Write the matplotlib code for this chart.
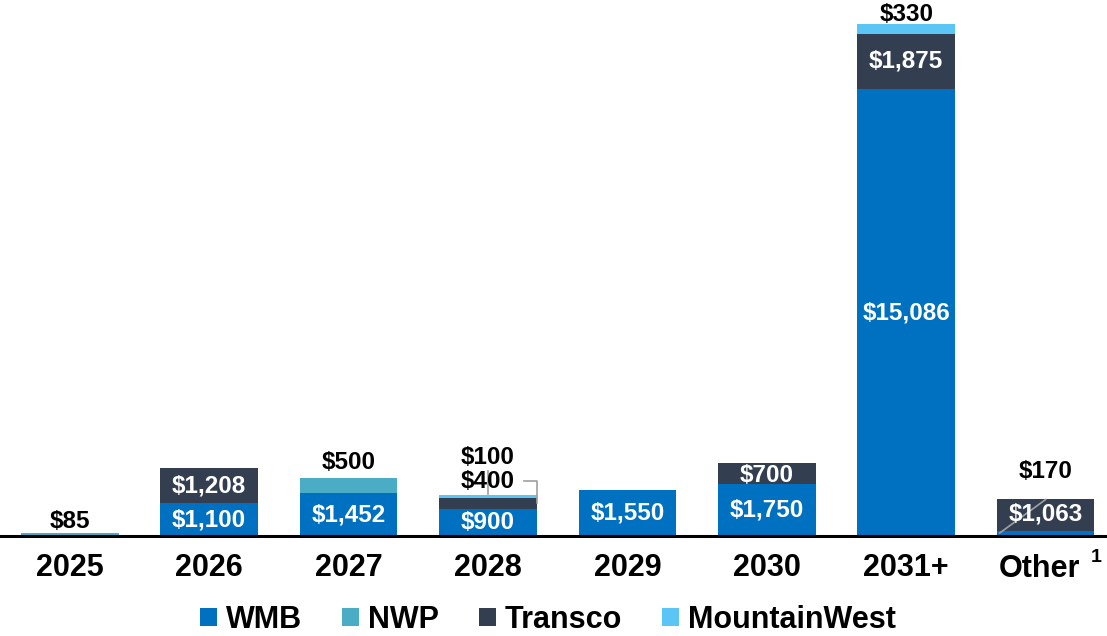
import matplotlib.pyplot as plt
import numpy as np

plt.rcParams['font.family'] = ['Liberation Sans', 'DejaVu Sans']
plt.rcParams['font.weight'] = 'bold'

years = ['2025', '2026', '2027', '2028', '2029', '2030', '2031+', 'Other']
wmb = [0, 1100, 1452, 900, 1550, 1750, 15086, 170]
nwp = [85, 0, 500, 0, 0, 0, 0, 0]
transco = [0, 1208, 0, 400, 0, 700, 1875, 1063]
mountainwest = [0, 0, 0, 100, 0, 0, 330, 0]

colors = {'WMB': '#0070C0', 'NWP': '#4BACC6', 'Transco': '#333F50', 'MountainWest': '#5BC5F5'}

fig = plt.figure(figsize=(11.07, 6.36), dpi=100)
ax = fig.add_axes([0, 100 / 636, 1, 536 / 636])

x = np.arange(len(years))
w = 0.7
series = [('WMB', wmb), ('NWP', nwp), ('Transco', transco), ('MountainWest', mountainwest)]
bottom = np.zeros(len(years))
for name, vals in series:
    vals = np.array(vals, dtype=float)
    ax.bar(x, vals, w, bottom=bottom, color=colors[name], label=name, edgecolor='none')
    bottom += vals

def fmt(v):
    return '${:,}'.format(int(v))

size = 17.5
# white labels inside segments
inside = [(1, 0), (1, 2), (2, 0), (3, 0), (4, 0), (5, 0), (5, 2), (6, 0), (6, 2), (7, 2)]
stack = np.array([wmb, nwp, transco, mountainwest], dtype=float)
cum = np.vstack([np.zeros(len(years)), np.cumsum(stack, axis=0)])
for i, s in inside:
    yc = cum[s, i] + stack[s, i] / 2
    if i == 7:
        yc += 40
    if i == 5 and s == 2:
        yc -= 60
    ax.text(x[i], yc, fmt(stack[s, i]), ha='center', va='center', color='white',
            fontsize=size, fontweight='bold')

# black labels above
tot = cum[-1]
ax.text(x[0], tot[0] + 20, fmt(nwp[0]), ha='center', va='bottom', fontsize=size, fontweight='bold')
ax.text(x[2], tot[2] + 150, fmt(nwp[2]), ha='center', va='bottom', fontsize=size, fontweight='bold')
ax.text(x[6], tot[6] - 60, fmt(mountainwest[6]), ha='center', va='bottom', fontsize=size, fontweight='bold')
ax.text(x[3], 2650, fmt(mountainwest[3]), ha='center', va='center', fontsize=size, fontweight='bold')
ax.text(x[3], 1850, fmt(transco[3]), ha='center', va='center', fontsize=size, fontweight='bold')
ax.text(x[7], 2180, fmt(wmb[7]), ha='center', va='center', fontsize=size, fontweight='bold')

# leader lines
ax.plot([x[3], x[3]], [tot[3] + 30, 2200], color='#A0A0A0', lw=1.2)
ax.plot([x[3] + 0.26, x[3] + 0.35, x[3] + 0.35], [1850, 1850, cum[2, 3] + 200],
        color='#A0A0A0', lw=1.2)
ax.plot([x[7] - 0.33, x[7]], [100, tot[7]], color='#A0A0A0', lw=1.2)

ax.set_xlim(-0.5, 7.44)
ax.set_ylim(0, 18100)
ax.set_xticks(x[:-1])
ax.set_xticklabels(years[:-1], fontsize=22, fontweight='bold')
ax.tick_params(axis='x', length=0, pad=12)
ax.set_yticks([])
for side in ['top', 'right', 'left']:
    ax.spines[side].set_visible(False)
ax.spines['bottom'].set_linewidth(2.2)

# "Other" with superscript 1
lbl_y = ax.get_xaxis_transform()
ax.text(6.955, -0.062, 'Other', transform=lbl_y, ha='center', va='center',
        fontsize=22, fontweight='bold')
ax.text(7.36, -0.04, '1', transform=lbl_y, ha='center', va='center',
        fontsize=14, fontweight='bold')

fig.legend(loc='center', bbox_to_anchor=(548 / 1107, 1 - 620 / 636), ncol=4,
           frameon=False, fontsize=22, handlelength=0.55, handleheight=0.55,
           handletextpad=0.3, columnspacing=1.3)

fig.savefig('out.png', dpi=100)
